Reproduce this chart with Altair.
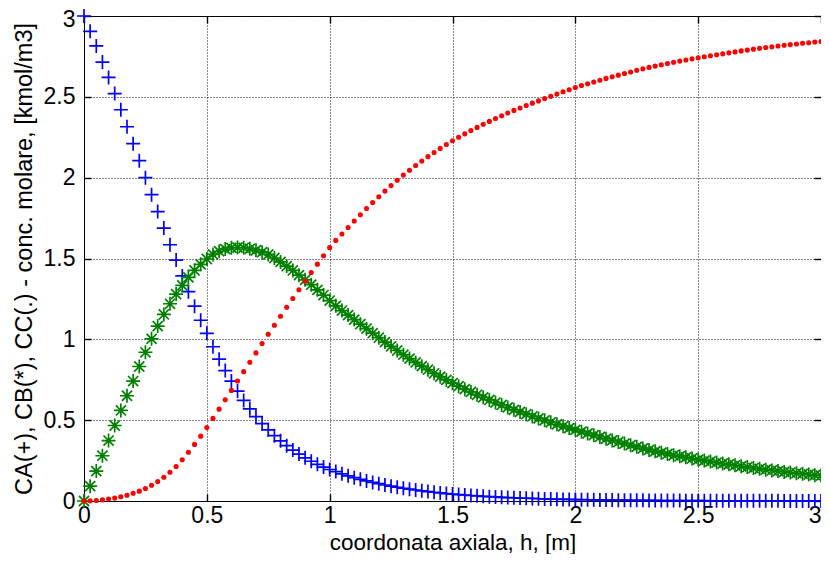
import altair as alt
import pandas as pd

# axial coordinate grid (m)
h = [round(i * 0.025, 3) for i in range(121)]

CA = [3.000, 2.905, 2.815, 2.715, 2.620, 2.520, 2.420, 2.315, 2.210, 2.105, 2.000,
      1.895, 1.790, 1.688, 1.585, 1.490, 1.392, 1.295, 1.205, 1.118, 1.037,
      0.954, 0.877, 0.807, 0.742, 0.680, 0.622, 0.570, 0.522, 0.479, 0.440,
      0.404, 0.372, 0.342, 0.315, 0.290, 0.267, 0.246, 0.227, 0.210, 0.195,
      0.182, 0.168, 0.156, 0.144, 0.134, 0.124, 0.115, 0.107, 0.099, 0.092,
      0.085, 0.079, 0.073, 0.068, 0.063, 0.058, 0.054, 0.050, 0.046, 0.043,
      0.040, 0.037, 0.034, 0.032, 0.029, 0.027, 0.025, 0.023, 0.021, 0.020,
      0.018, 0.017, 0.016, 0.014, 0.013, 0.012, 0.011, 0.010, 0.0095, 0.009,
      0.0083, 0.0077, 0.0071, 0.0066, 0.0061, 0.0057, 0.0053, 0.0049, 0.0045, 0.0042,
      0.0039, 0.0036, 0.0033, 0.0031, 0.0029, 0.0027, 0.0025, 0.0023, 0.0021, 0.0020,
      0.0018, 0.0017, 0.0016, 0.0015, 0.0014, 0.0013, 0.0012, 0.0011, 0.0010, 0.0009,
      0.0009, 0.0008, 0.0008, 0.0007, 0.0007, 0.0006, 0.0006, 0.0005, 0.0005, 0.0005]

CB = [0.000, 0.092, 0.185, 0.280, 0.374, 0.467, 0.560, 0.651, 0.742, 0.832, 0.920,
      1.003, 1.082, 1.154, 1.220, 1.280, 1.334, 1.383, 1.426, 1.464, 1.497,
      1.525, 1.545, 1.558, 1.566, 1.568, 1.566, 1.560, 1.551, 1.539, 1.525,
      1.503, 1.479, 1.453, 1.426, 1.397, 1.368, 1.338, 1.306, 1.274, 1.240,
      1.207, 1.178, 1.150, 1.122, 1.094, 1.066, 1.038, 1.010, 0.983, 0.957,
      0.931, 0.905, 0.881, 0.857, 0.834, 0.812, 0.790, 0.769, 0.749, 0.729,
      0.710, 0.692, 0.675, 0.657, 0.641, 0.625, 0.609, 0.594, 0.579, 0.564,
      0.551, 0.537, 0.523, 0.511, 0.499, 0.487, 0.474, 0.462, 0.451, 0.440,
      0.429, 0.418, 0.407, 0.396, 0.385, 0.375, 0.365, 0.355, 0.345, 0.335,
      0.325, 0.316, 0.307, 0.299, 0.291, 0.283, 0.277, 0.270, 0.263, 0.256,
      0.250, 0.244, 0.238, 0.232, 0.227, 0.221, 0.215, 0.210, 0.204, 0.199,
      0.194, 0.189, 0.185, 0.180, 0.176, 0.172, 0.168, 0.164, 0.160, 0.157]

CC = [0.000, 0.001, 0.003, 0.007, 0.012, 0.018, 0.026, 0.036, 0.048, 0.061, 0.077,
      0.097, 0.120, 0.147, 0.178, 0.213, 0.255, 0.302, 0.350, 0.401, 0.454,
      0.511, 0.568, 0.626, 0.684, 0.742, 0.800, 0.858, 0.916, 0.974, 1.031,
      1.087, 1.143, 1.198, 1.253, 1.307, 1.360, 1.413, 1.465, 1.517, 1.567,
      1.612, 1.652, 1.692, 1.732, 1.771, 1.809, 1.846, 1.882, 1.917, 1.951,
      1.984, 2.016, 2.046, 2.075, 2.103, 2.130, 2.156, 2.181, 2.205, 2.228,
      2.250, 2.271, 2.291, 2.311, 2.330, 2.348, 2.366, 2.383, 2.400, 2.416,
      2.431, 2.446, 2.461, 2.475, 2.489, 2.503, 2.517, 2.531, 2.544, 2.558,
      2.570, 2.581, 2.592, 2.603, 2.614, 2.624, 2.634, 2.644, 2.654, 2.664,
      2.673, 2.682, 2.690, 2.698, 2.706, 2.714, 2.721, 2.728, 2.735, 2.742,
      2.748, 2.754, 2.760, 2.766, 2.772, 2.778, 2.784, 2.789, 2.795, 2.800,
      2.805, 2.810, 2.814, 2.819, 2.823, 2.827, 2.831, 2.835, 2.839, 2.842]

x_ticks = [0, 0.5, 1, 1.5, 2, 2.5, 3]
y_ticks = [0, 0.5, 1, 1.5, 2, 2.5, 3]

x_title = "coordonata axiala, h, [m]"
y_title = "CA(+), CB(*), CC(.) - conc. molare, [kmol/m3]"

W, H = 737, 485
FONT = "Liberation Sans"
FS = 23

df = pd.DataFrame({"h": h, "CA": CA, "CB": CB, "CC": CC})

xs = alt.Scale(domain=[0, 3], nice=False, zero=False)
ys = alt.Scale(domain=[0, 3], nice=False, zero=False)


def tick_axis(orient, offset, vals):
    return alt.Axis(orient=orient, offset=offset, values=vals, labels=False,
                    title=None, grid=False, domain=False, ticks=True,
                    tickSize=7, tickColor="black", tickWidth=1.4)


main_x = alt.Axis(orient="bottom", values=x_ticks, format="~g", title=x_title,
                  grid=True, gridDash=[1, 2], gridColor="#111", gridWidth=1,
                  gridOpacity=1, ticks=False, domain=True, domainColor="black",
                  labelFont=FONT, labelFontSize=FS, labelColor="black",
                  labelPadding=3, labelFlush=False,
                  labelAlign={"condition": {"test": "datum.value == 3", "value": "right"},
                              "value": "center"},
                  titleFont=FONT, titleFontSize=22.5, titleFontWeight="normal",
                  titleColor="black", titleY=48, titleBaseline="alphabetic")
main_y = alt.Axis(orient="left", values=y_ticks, format="~g", title=y_title,
                  grid=True, gridDash=[1, 2], gridColor="#111", gridWidth=1,
                  gridOpacity=1, ticks=False, domain=True, domainColor="black",
                  labelFont=FONT, labelFontSize=FS, labelColor="black",
                  labelPadding=9, labelFlush=False,
                  labelOffset={"condition": {"test": "datum.value == 3", "value": 3},
                               "value": 0},
                  titleFont=FONT, titleFontSize=23.5, titleFontWeight="normal",
                  titleColor="black", titleX=-60, titleY=H / 2,
                  titleAngle=270, titleBaseline="middle", titleAlign="center")

PLUS = "M-1,0L1,0M0,-1L0,1"
STAR = "M-1,0L1,0M0,-1L0,1M-0.72,-0.72L0.72,0.72M-0.72,0.72L0.72,-0.72"

base = alt.Chart(df)

l_a = base.mark_point(shape=PLUS, filled=False, color="#0000ff", size=196,
                      strokeWidth=1.7, opacity=1).encode(
    x=alt.X("h:Q", scale=xs, axis=main_x),
    y=alt.Y("CA:Q", scale=ys, axis=main_y),
)
l_b = base.mark_point(shape=STAR, filled=False, color="#008000", size=196,
                      strokeWidth=1.7, opacity=1).encode(
    x=alt.X("h:Q", scale=xs, axis=tick_axis("top", -H, x_ticks)),
    y=alt.Y("CB:Q", scale=ys, axis=tick_axis("right", -W, y_ticks)),
)
l_c = base.mark_circle(color="#ff0000", size=26, opacity=1).encode(
    x=alt.X("h:Q", scale=xs, axis=tick_axis("bottom", -H, x_ticks)),
    y=alt.Y("CC:Q", scale=ys, axis=tick_axis("left", -W, y_ticks)),
)

chart = alt.layer(l_a, l_b, l_c).resolve_axis(
    x="independent", y="independent"
).properties(
    width=W, height=H,
    padding={"left": 76, "top": 8, "right": 0, "bottom": 53},
    autosize=alt.AutoSizeParams(type="none"),
    background="white",
).configure_view(stroke="black", strokeWidth=1)

chart.save("out.html", embed_options={"renderer": "svg", "actions": False})
